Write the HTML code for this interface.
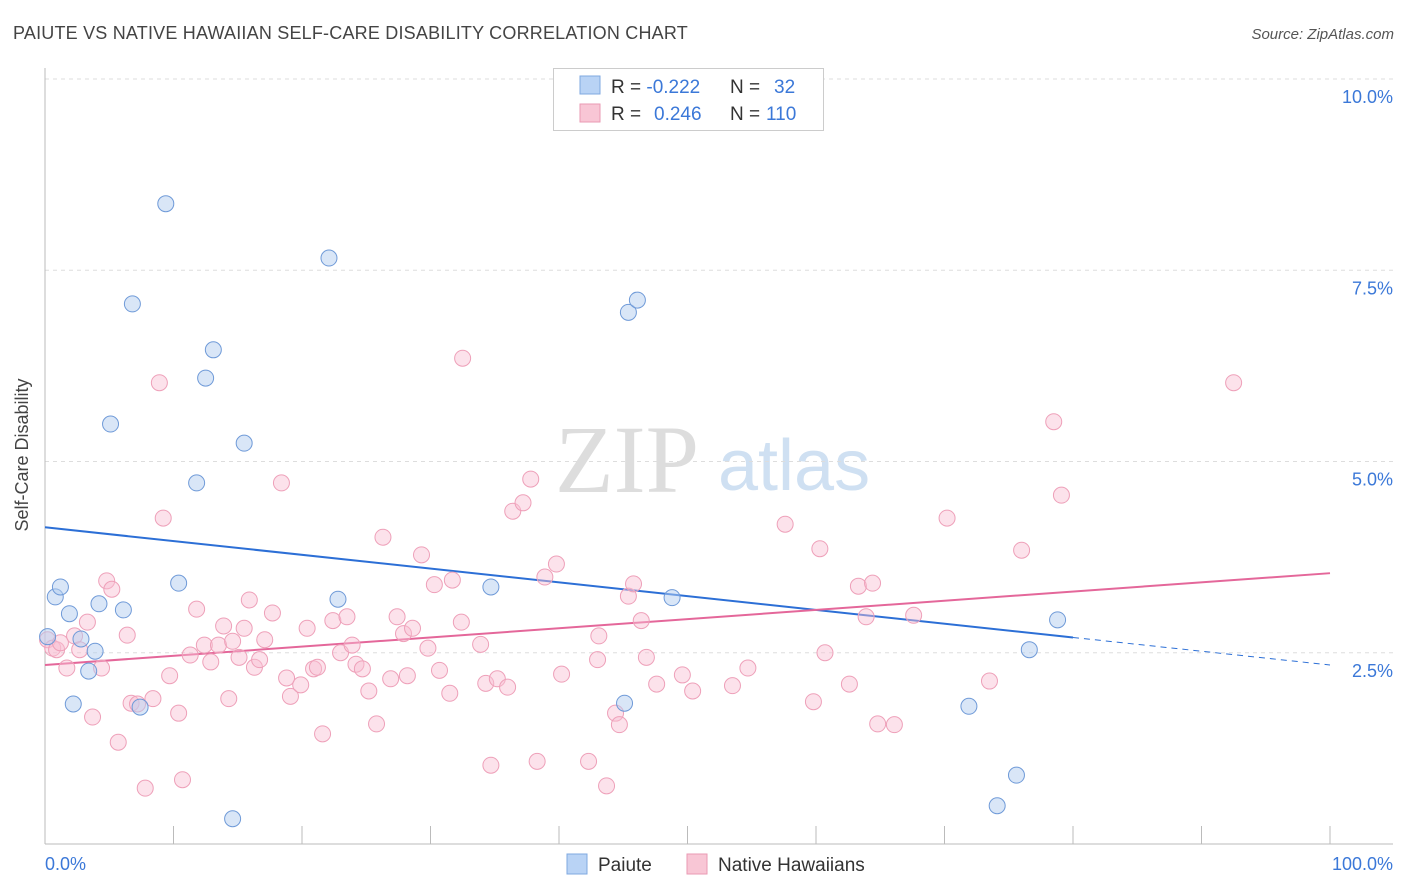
<!DOCTYPE html>
<html><head><meta charset="utf-8"><style>
body{margin:0;background:#fff;font-family:"Liberation Sans",sans-serif;}
svg{display:block}
</style></head><body>
<svg id="chart" width="1406" height="892" xmlns="http://www.w3.org/2000/svg">
<text x="13" y="39" font-size="18" letter-spacing="0.2" fill="#444">PAIUTE VS NATIVE HAWAIIAN SELF-CARE DISABILITY CORRELATION CHART</text>
<text x="1394" y="39" font-size="15" fill="#555" font-style="italic" text-anchor="end">Source: ZipAtlas.com</text>
<g>
<text x="555" y="492" font-size="96" font-family="Liberation Serif,serif" fill="#ddd">ZIP</text>
<text x="718" y="490" font-size="72" fill="#cfe0f2">atlas</text>
</g>
<g id="grid"></g>
<g id="axes"></g>
<g id="trends"></g>
<g id="pts"></g>
<text x="28" y="455" font-size="18" fill="#444" text-anchor="middle" transform="rotate(-90 28 455)">Self-Care Disability</text>
<text x="45" y="870" font-size="18" fill="#3b78d8">0.0%</text>
<text x="1393" y="870" font-size="18" fill="#3b78d8" text-anchor="end">100.0%</text>
<g>
<rect x="553.5" y="68.5" width="270" height="62" fill="#fff" stroke="#ccc"/>
<rect x="580" y="76" width="20" height="18" fill="#b9d3f5" stroke="#7fa8e0"/>
<rect x="580" y="104" width="20" height="18" fill="#f8c6d5" stroke="#ea9ab3"/>
<text x="611" y="93" font-size="19" fill="#333">R = <tspan fill="#3b78d8">-0.222</tspan><tspan x="730">N = </tspan><tspan x="774" fill="#3b78d8">32</tspan></text>
<text x="611" y="120" font-size="19" fill="#333">R = <tspan x="654" fill="#3b78d8">0.246</tspan><tspan x="730">N = </tspan><tspan x="766" fill="#3b78d8">110</tspan></text>
</g>
<g>
<rect x="567" y="854" width="20" height="20" fill="#b9d3f5" stroke="#7fa8e0"/>
<text x="598" y="871" font-size="19" fill="#333">Paiute</text>
<rect x="687" y="854" width="20" height="20" fill="#f8c6d5" stroke="#ea9ab3"/>
<text x="718" y="871" font-size="19" fill="#333">Native Hawaiians</text>
</g>
</svg>
<script>
const yTicks=[2.5,5.0,7.5,10.0];
const yTickLabels=["2.5%","5.0%","7.5%","10.0%"];
const xTicks=[0,10,20,30,40,50,60,70,80,90,100];
const paiuteX=[0.2,0.8,1.2,1.9,2.2,2.8,3.4,3.9,4.2,6.1,6.8,5.1,7.4,9.4,10.4,11.8,12.5,13.1,14.6,15.5,22.1,22.8,34.7,45.1,45.4,46.1,48.8,71.9,74.1,75.6,76.6,78.8];
const paiuteY=[2.71,3.23,3.36,3.01,1.83,2.68,2.26,2.52,3.14,3.06,7.06,5.49,1.79,8.37,3.41,4.72,6.09,6.46,0.33,5.24,7.66,3.20,3.36,1.84,6.95,7.11,3.22,1.80,0.50,0.90,2.54,2.93];
const hawX=[0.2,0.6,0.9,1.2,1.7,2.3,2.7,3.3,3.7,4.4,4.8,5.2,5.7,6.4,6.7,7.2,7.8,8.4,8.9,9.2,9.7,10.4,10.7,11.3,11.8,12.4,12.9,13.5,13.9,14.3,14.6,15.1,15.5,15.9,16.3,16.7,17.1,17.7,18.4,18.8,19.1,19.9,20.4,20.9,21.2,21.6,22.4,23.0,23.5,23.9,24.2,24.7,25.2,25.8,26.3,26.9,27.4,27.9,28.2,28.6,29.3,29.8,30.3,30.7,31.5,31.7,32.4,32.5,33.9,34.3,34.7,35.2,36.0,36.4,37.2,37.8,38.3,38.9,39.8,40.2,42.3,43.0,43.1,43.7,44.4,44.7,45.4,45.8,46.4,46.8,47.6,49.6,50.4,53.5,54.7,57.6,59.8,60.3,60.7,62.6,63.3,63.9,64.4,64.8,66.1,67.6,70.2,73.5,76.0,78.5,79.1,92.5];
const hawY=[2.67,2.56,2.54,2.63,2.30,2.72,2.54,2.90,1.66,2.30,3.44,3.33,1.33,2.73,1.84,1.83,0.73,1.90,6.03,4.26,2.20,1.71,0.84,2.47,3.07,2.60,2.38,2.60,2.85,1.90,2.65,2.44,2.82,3.19,2.31,2.41,2.67,3.02,4.72,2.17,1.93,2.08,2.82,2.29,2.31,1.44,2.92,2.50,2.97,2.60,2.35,2.29,2.00,1.57,4.01,2.16,2.97,2.75,2.20,2.82,3.78,2.56,3.39,2.27,1.97,3.45,2.90,6.35,2.61,2.10,1.03,2.16,2.05,4.35,4.46,4.77,1.08,3.49,3.66,2.22,1.08,2.41,2.72,0.76,1.71,1.56,3.24,3.40,2.92,2.44,2.09,2.21,2.00,2.07,2.30,4.18,1.86,3.86,2.50,2.09,3.37,2.97,3.41,1.57,1.56,2.99,4.26,2.13,3.84,5.52,4.56,6.03];
const paiuteTrend=[4.14,2.34];
const hawTrend=[2.34,3.54];
const NS="http://www.w3.org/2000/svg";
function sx(v){return 45+v*12.85;}
function sy(v){return 844-v*76.5;}
function mk(tag,attrs,parent){const e=document.createElementNS(NS,tag);for(const k in attrs)e.setAttribute(k,attrs[k]);parent.appendChild(e);return e;}
const grid=document.getElementById('grid'),axes=document.getElementById('axes');
yTicks.forEach((t,i)=>{
 const l=mk('line',{x1:45,x2:1393,y1:sy(t),y2:sy(t),stroke:'#ddd','stroke-dasharray':'4,4'},grid);
 
 
 const tx=mk('text',{x:1393,y:sy(t)+24,'font-size':18,fill:'#3b78d8','text-anchor':'end'},grid);
 tx.textContent=yTickLabels[i];
 
 
});
const ya=mk('line',{x1:45,x2:45,y1:68,y2:844,stroke:'#bbb'},axes);


const xa=mk('line',{x1:45,x2:1393,y1:844,y2:844,stroke:'#bbb'},axes);


xTicks.forEach(t=>{
 const l=mk('line',{x1:sx(t),x2:sx(t),y1:826,y2:844,stroke:'#bbb'},axes);
 
 
});
const pts=document.getElementById('pts');
hawX.forEach((x,i)=>{
 const c=mk('circle',{cx:sx(x),cy:sy(hawY[i]),r:8,fill:'rgba(248,190,210,0.45)',stroke:'#eea0b9','stroke-width':1},pts);
 
 
});
paiuteX.forEach((x,i)=>{
 const c=mk('circle',{cx:sx(x),cy:sy(paiuteY[i]),r:8,fill:'rgba(180,205,240,0.5)',stroke:'#6f9ad8','stroke-width':1},pts);
 
 
});
const tr=document.getElementById('trends');
const pm=paiuteTrend[0]+(paiuteTrend[1]-paiuteTrend[0])*0.8;
const b1=mk('line',{x1:sx(0),y1:sy(paiuteTrend[0]),x2:sx(80),y2:sy(pm),stroke:'#2c6fd6','stroke-width':2},tr);


const b2=mk('line',{x1:sx(80),y1:sy(pm),x2:sx(100),y2:sy(paiuteTrend[1]),stroke:'#2c6fd6','stroke-width':1,'stroke-dasharray':'6,5'},tr);


const p1=mk('line',{x1:sx(0),y1:sy(hawTrend[0]),x2:sx(100),y2:sy(hawTrend[1]),stroke:'#e4679a','stroke-width':2},tr);


</script>
</body></html>
